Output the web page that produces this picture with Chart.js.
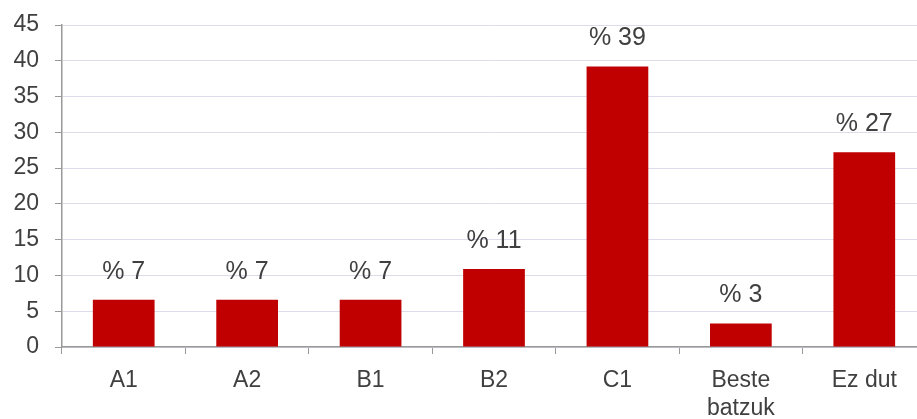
<!DOCTYPE html>
<html>
<head>
<meta charset="utf-8">
<script src="https://cdn.jsdelivr.net/npm/chart.js@4.4.0/dist/chart.umd.min.js"></script>
<style>
  html, body { margin: 0; padding: 0; background: #fff; overflow: hidden; }
  #wrap { width: 926px; height: 419px; position: relative; }
</style>
</head>
<body>
<div id="wrap"><canvas id="c"></canvas></div>
<script>
const categories = ["A1", "A2", "B1", "B2", "C1", ["Beste", "batzuk"], "Ez dut"];
const values = [6.6, 6.6, 6.6, 10.9, 39.2, 3.3, 27.2];
const yTicks = [0, 5, 10, 15, 20, 25, 30, 35, 40, 45];

const textColor = '#404040';
const fontFamily = '"Liberation Sans", Arial, sans-serif';

const valueLabels = {
  id: 'valueLabels',
  afterDatasetsDraw(chart) {
    const ctx = chart.ctx;
    const meta = chart.getDatasetMeta(0);
    ctx.save();
    ctx.font = '25px ' + fontFamily;
    ctx.fillStyle = textColor;
    ctx.textAlign = 'center';
    ctx.textBaseline = 'middle';
    meta.data.forEach((bar, i) => {
      ctx.fillText('% ' + Math.round(values[i]), bar.x, bar.y - 28);
    });
    ctx.restore();
  }
};

new Chart(document.getElementById('c'), {
  type: 'bar',
  data: {
    labels: categories,
    datasets: [{
      data: values,
      backgroundColor: '#C00000',
      borderWidth: 0,
      categoryPercentage: 1.0,
      barPercentage: 0.5
    }]
  },
  options: {
    responsive: true,
    maintainAspectRatio: false,
    animation: false,
    layout: { padding: { top: 25, right: 0, left: 0, bottom: 0 } },
    plugins: { legend: { display: false }, tooltip: { enabled: false } },
    scales: {
      x: {
        grid: {
          offset: true,
          drawOnChartArea: false,
          drawTicks: true,
          tickLength: 7,
          tickColor: '#999999'
        },
        border: { display: true, color: '#999999', width: 1.5 },
        ticks: {
          color: textColor,
          font: { family: fontFamily, size: 23 },
          padding: 13,
          maxRotation: 0,
          autoSkip: false
        },
        afterFit(scale) { scale.height = 72; scale.paddingLeft = 0; scale.paddingRight = 0; }
      },
      y: {
        min: 0,
        max: 45,
        afterBuildTicks(scale) { scale.ticks = yTicks.map(v => ({ value: v })); },
        grid: {
          color: '#DCDCEA',
          drawTicks: true,
          tickLength: 7,
          tickColor: '#999999'
        },
        border: { display: true, color: '#999999', width: 1.5 },
        ticks: {
          color: textColor,
          font: { family: fontFamily, size: 23 },
          padding: 16
        },
        afterFit(scale) { scale.width = 62; scale.paddingTop = 0; scale.paddingBottom = 0; }
      }
    }
  },
  plugins: [valueLabels]
});
</script>
</body>
</html>
